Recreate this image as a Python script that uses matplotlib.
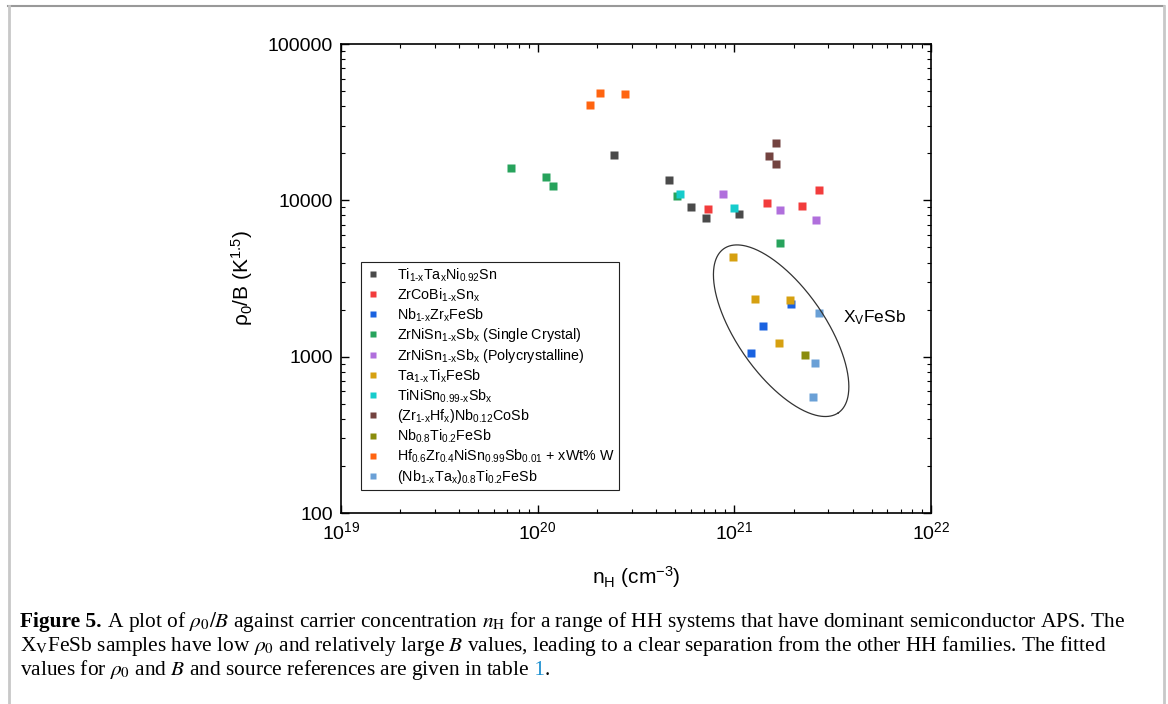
import numpy as np
import matplotlib
matplotlib.use("Agg")
import matplotlib.pyplot as plt
from matplotlib.lines import Line2D
from matplotlib.ticker import LogLocator, NullFormatter

# carrier concentration (cm^-3) and rho0/B (K^1.5) per family
ti_ta_x = [2.45e20, 4.64e20, 6.03e20, 7.19e20, 1.06e21]
ti_ta_y = [19500, 13400, 9100, 7700, 8200]
zrcobi_x = [7.36e20, 1.47e21, 2.21e21, 2.71e21]
zrcobi_y = [8770, 9570, 9200, 11700]
nbzr_x = [1.21e21, 1.40e21, 1.95e21]
nbzr_y = [1055, 1570, 2180]
zrnisn_sc_x = [7.3e19, 1.10e20, 1.20e20, 5.12e20, 1.70e21]
zrnisn_sc_y = [16000, 14100, 12300, 10700, 5320]
zrnisn_pc_x = [8.79e20, 1.70e21, 2.60e21]
zrnisn_pc_y = [11030, 8670, 7530]
tati_x = [9.8e20, 1.28e21, 1.92e21, 1.68e21]
tati_y = [4330, 2330, 2310, 1217]
tinisn_x = [5.29e20, 1.0e21]
tinisn_y = [10900, 8980]
zrhf_x = [1.62e21, 1.50e21, 1.62e21]
zrhf_y = [23300, 19300, 17200]
nbti_x = [2.30e21]
nbti_y = [1025]
hfzr_x = [1.85e20, 2.08e20, 2.79e20]
hfzr_y = [41000, 48400, 48000]
nbta_x = [2.68e21, 2.56e21, 2.51e21]
nbta_y = [1910, 912, 556]

labels = [
    r"Ti$_{1\text{-}x}$Ta$_x$Ni$_{0.92}$Sn",
    r"ZrCoBi$_{1\text{-}x}$Sn$_x$",
    r"Nb$_{1\text{-}x}$Zr$_x$FeSb",
    r"ZrNiSn$_{1\text{-}x}$Sb$_x$ (Single Crystal)",
    r"ZrNiSn$_{1\text{-}x}$Sb$_x$ (Polycrystalline)",
    r"Ta$_{1\text{-}x}$Ti$_x$FeSb",
    r"TiNiSn$_{0.99\text{-}x}$Sb$_x$",
    r"(Zr$_{1\text{-}x}$Hf$_x$)Nb$_{0.12}$CoSb",
    r"Nb$_{0.8}$Ti$_{0.2}$FeSb",
    r"Hf$_{0.6}$Zr$_{0.4}$NiSn$_{0.99}$Sb$_{0.01}$ + xWt% W",
    r"(Nb$_{1\text{-}x}$Ta$_x$)$_{0.8}$Ti$_{0.2}$FeSb",
]
xs = [ti_ta_x, zrcobi_x, nbzr_x, zrnisn_sc_x, zrnisn_pc_x, tati_x,
      tinisn_x, zrhf_x, nbti_x, hfzr_x, nbta_x]
ys = [ti_ta_y, zrcobi_y, nbzr_y, zrnisn_sc_y, zrnisn_pc_y, tati_y,
      tinisn_y, zrhf_y, nbti_y, hfzr_y, nbta_y]
colors = ["#4a4a4a", "#f23c3c", "#1a62e0", "#27a35c", "#b06fdc", "#d6a010",
          "#16cccc", "#734340", "#8a8c0c", "#ff6410", "#6aa0d6"]

plt.rcParams["font.family"] = ["Liberation Sans", "DejaVu Sans"]
plt.rcParams["mathtext.fontset"] = "custom"
plt.rcParams["mathtext.rm"] = "Liberation Sans"
plt.rcParams["mathtext.it"] = "Liberation Sans"
plt.rcParams["mathtext.bf"] = "Liberation Sans:bold"

W, H = 1168, 704
fig = plt.figure(figsize=(W / 100, H / 100), dpi=100)
ax = fig.add_axes([341 / W, 1 - 513 / H, 590 / W, 469 / H])

for x, y, c, lab in zip(xs, ys, colors, labels):
    ax.plot(x, y, "s", ms=6.2, color=c, mec="none", label=lab)

# ellipse around the XVFeSb samples, drawn in log space
t = np.linspace(0, 2 * np.pi, 400)
ell_cx, ell_cy = 21.238, 3.166
lx = ell_cx + 0.291 * np.cos(t) - 0.184 * np.sin(t)
ly = ell_cy - 0.525 * np.cos(t) - 0.160 * np.sin(t)
ax.plot(10 ** lx, 10 ** ly, color="#333333", lw=0.9)
ax.text(3.56e21, 1775, r"X$_\mathrm{V}$FeSb", fontsize=12.5, va="center", ha="left")

ax.set_xscale("log")
ax.set_yscale("log")
ax.set_xlim(1e19, 1e22)
ax.set_ylim(100, 1e5)
ax.set_xticks([1e19, 1e20, 1e21, 1e22])
ax.set_xticklabels([r"10$^{19}$", r"10$^{20}$", r"10$^{21}$", r"10$^{22}$"])
ax.set_yticks([100, 1000, 10000, 100000])
ax.set_yticklabels(["100", "1000", "10000", "100000"])
for axis in (ax.xaxis, ax.yaxis):
    axis.set_minor_locator(LogLocator(base=10, subs=np.arange(2, 10)))
    axis.set_minor_formatter(NullFormatter())
ax.tick_params(which="both", direction="in", top=True, right=True, labelsize=14)
ax.tick_params(which="major", length=6, width=1.0, pad=6)
ax.tick_params(which="minor", length=3, width=0.8)
for s in ax.spines.values():
    s.set_linewidth(1.2)

ax.set_xlabel(r"n$_\mathrm{H}$ (cm$^{-3}$)", fontsize=15, labelpad=15)
ax.set_ylabel(r"ρ$_0$/B (K$^{1.5}$)", fontsize=15, labelpad=9)

leg = ax.legend(loc="upper left", bbox_to_anchor=(0.034, 0.535), borderaxespad=0,
                fancybox=False, edgecolor="#222222", framealpha=1, fontsize=10.3,
                markerscale=0.75, handlelength=1.0, handletextpad=1.2,
                labelspacing=0.18, borderpad=0.3)
leg.get_frame().set_linewidth(0.8)

# caption
renderer = fig.canvas.get_renderer()
cap = dict(family=["Liberation Serif", "DejaVu Serif"], fontsize=15.4,
           math_fontfamily="stix", va="baseline", ha="left")


def caption_line(pieces, y_px):
    x = 20 / W
    for txt, extra in pieces:
        kw = dict(cap)
        kw.update(extra)
        tt = fig.text(x, 1 - y_px / H, txt, **kw)
        x = tt.get_window_extent(renderer).x1 / W


caption_line([("Figure 5.", {"weight": "bold"}),
              (r" A plot of $\rho_{\mathit{0}}/B$ against carrier concentration $n_\mathrm{H}$ "
               "for a range of HH systems that have dominant semiconductor APS. The", {})], 627)
caption_line([(r"X$_\mathrm{V}$FeSb samples have low $\rho_{\mathit{0}}$ and relatively large $B$ "
               "values, leading to a clear separation from the other HH families. The fitted", {})], 651)
caption_line([(r"values for $\rho_{\mathit{0}}$ and $B$ and source references are given in table", {}),
              (" 1", {"color": "#1a8fd0"}), (".", {})], 675)

# page frame
fig.add_artist(Line2D([8 / W, 1164 / W], [1 - 6 / H] * 2, transform=fig.transFigure,
                      color="#999999", lw=1.5))
fig.add_artist(Line2D([8.5 / W] * 2, [0, 1 - 6 / H], transform=fig.transFigure,
                      color="#c8c8c8", lw=2))
fig.add_artist(Line2D([1163.5 / W] * 2, [0, 1 - 6 / H], transform=fig.transFigure,
                      color="#c8c8c8", lw=2))

fig.savefig("out.png", dpi=100)
